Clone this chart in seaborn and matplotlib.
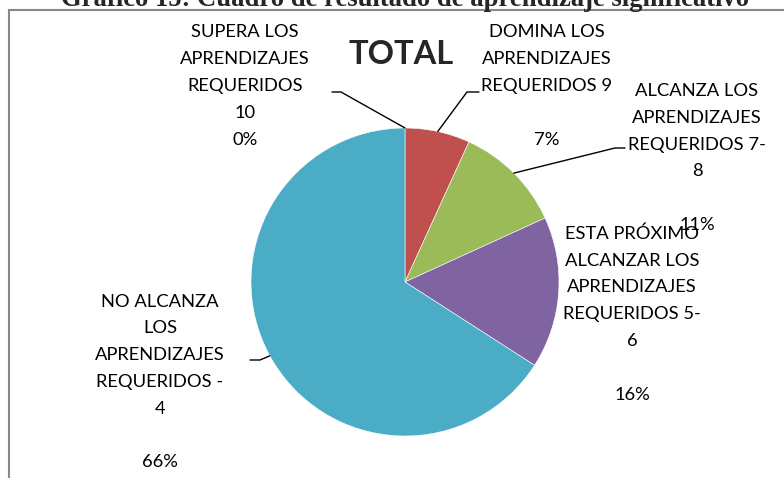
import numpy as np
import seaborn as sns
import matplotlib.pyplot as plt
from matplotlib.patches import Rectangle

# data: pupils per level (estimated from the slice sizes / percentages)
categorias = ['SUPERA LOS\nAPRENDIZAJES\nREQUERIDOS\n10',
              'DOMINA LOS\nAPRENDIZAJES\nREQUERIDOS 9\n',
              'ALCANZA LOS\nAPRENDIZAJES\nREQUERIDOS 7-\n8\n',
              'ESTA PRÓXIMO\nALCANZAR LOS\nAPRENDIZAJES\nREQUERIDOS 5-\n6\n',
              'NO ALCANZA\nLOS\nAPRENDIZAJES\nREQUERIDOS -\n4\n']
valores = [0, 3, 5, 7, 29]
colores = ['#4F81BD', '#C0504D', '#9BBB59', '#8064A2', '#4BACC6']

W, H = 784, 478
CX, CY, R = 405, 282, 154   # pie centre/radius in pixels (from top)


def px(x, y):
    # pixel (from top-left) -> data coords of the pie axes
    return (x - CX) / R, (CY - y) / R


sns.set_style('white')
plt.rcParams['font.family'] = ['Lato', 'DejaVu Sans']

fig = plt.figure(figsize=(W / 100, H / 100), dpi=100)
ax = fig.add_axes([(CX - R) / W, (H - CY - R) / H, 2 * R / W, 2 * R / H])

pal = sns.color_palette(colores)
wedges, _ = ax.pie(valores, colors=pal, startangle=90, counterclock=False, radius=1,
                   wedgeprops={'edgecolor': 'white', 'linewidth': 0.4})
ax.set_xlim(-1, 1)
ax.set_ylim(-1, 1)
ax.set_aspect('equal')
ax.axis('off')

total = sum(valores)
# label layout: centre of text block (px), elbow of leader line, end of leader line
layout = [
    ((245, 86), (341, 92), (332, 92)),
    ((547, 86), (467, 92), (479, 92)),
    ((697, 158), (615, 148), (625, 148)),
    ((632, 314), None, None),
    ((160, 382), (260, 360), (250, 360)),
]

for w, cat, v, (tpos, elbow, end) in zip(wedges, categorias, valores, layout):
    pct = '{:.0f}%'.format(100 * v / total)
    tx, ty = px(*tpos)
    ax.text(tx, ty, cat + '\n' + pct, ha='center', va='center', fontsize=13.2,
            color='black', linespacing=1.83, clip_on=False)
    if elbow is not None:
        ang = np.deg2rad((w.theta1 + w.theta2) / 2)
        x0, y0 = np.cos(ang), np.sin(ang)
        ex, ey = px(*elbow)
        fx, fy = px(*end)
        ax.plot([x0, ex, fx], [y0, ey, fy], color='black', lw=1, clip_on=False,
                solid_joinstyle='miter')

ax.text(*px(401, 54), 'TOTAL', ha='center', va='center', fontsize=23.5,
        fontweight='bold', clip_on=False)

# frame of the chart area and the (cut) caption above it
fig.patches.append(Rectangle((9 / W, -0.2), 2, 1.2 - 10 / H, transform=fig.transFigure,
                             fill=False, edgecolor='#888888', lw=1.5))
fig.text(405 / W, 1 - 6 / H, 'Gráfico 15: Cuadro de resultado de aprendizaje significativo',
         ha='center', va='baseline', fontsize=19.2, fontweight='bold',
         family='Liberation Serif')

fig.savefig('out.png', dpi=100)
